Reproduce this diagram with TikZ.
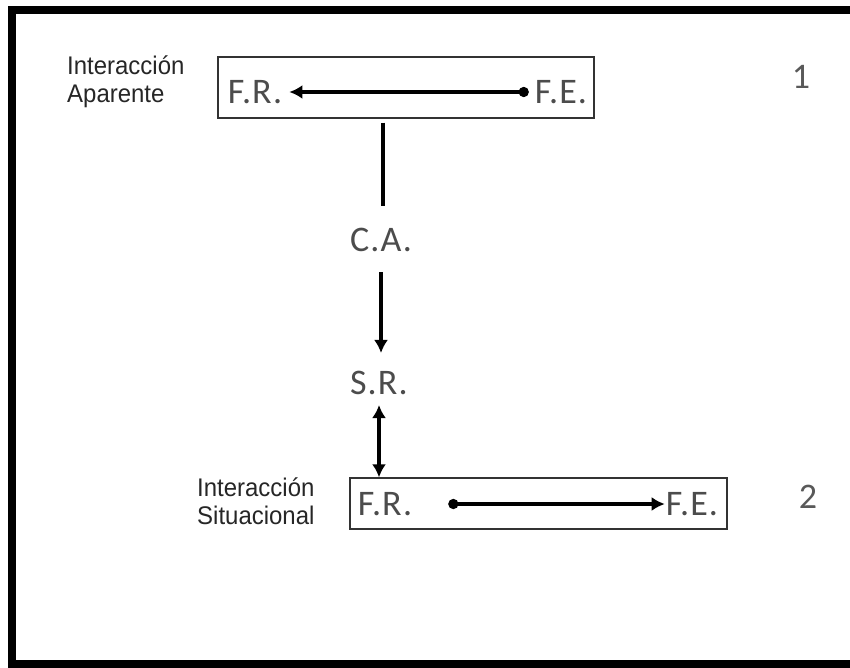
\documentclass[tikz,border=0pt]{standalone}
\usepackage{fontspec}
\setmainfont{Carlito}
\newfontfamily\arialf[FakeStretch=0.94]{Liberation Sans}
\usetikzlibrary{arrows.meta,calc}
\tikzset{
  ahead/.tip={Latex[length=13pt,width=14pt]},
  dot/.tip={Circle[length=10pt,width=10pt]}
}
\begin{document}
\begin{tikzpicture}[x=1pt,y=-1pt,
  lbl/.style={font=\fontsize{36}{40}\selectfont\addfontfeatures{LetterSpace=3}, text=black!70, inner sep=0pt},
  num/.style={font=\fontsize{36}{40}\selectfont, text=black!65, inner sep=0pt},
  side/.style={font=\arialf\fontsize{25.5}{28}\selectfont, text=black!85, align=left, inner sep=0pt, anchor=west},
  boxx/.style={draw=black!80, line width=1.3pt, inner sep=0pt},
  conn/.style={line width=4.2pt, black}
]
\useasboundingbox (0,0) rectangle (850,668);
\begin{scope}
\clip (0,0) rectangle (850,668);
\draw[line width=8pt] (11.5,10) -- (880,10) -- (880,664) -- (11.5,664) -- cycle;
\end{scope}

% boxes
\node[boxx, minimum width=376pt, minimum height=61pt] (box1) at (406,87.5) {};
\node[boxx, minimum width=377pt, minimum height=51pt] (box2) at (538.5,503.5) {};

% texts
\node[lbl] (fr1) at (255,92) {F.R.};
\node[lbl] (fe1) at (561,92) {F.E.};
\node[lbl] (fr2) at (385,504) {F.R.};
\node[lbl] (fe2) at (692,504) {F.E.};
\node[lbl] (ca) at (381,240) {C.A.};
\node[lbl] (sr) at (379,383) {S.R.};
\node[side] (s1) at (67,82) {Interacción\\Aparente};
\node[side] (s2) at (197,501) {Interacción\\Situacional};
\node[num] (n1) at (801,77) {1};
\node[num] (n2) at (808,497) {2};

% connectors
\draw[conn, {ahead}-{dot}, shorten <=7pt, shorten >=6pt] (fr1.east) -- (fe1.west);
\draw[conn, {dot}-{ahead}, shorten <=36pt, shorten >=1pt] (fr2.east) -- (fe2.west);
\draw[conn, shorten <=4pt, shorten >=22pt] ([xshift=2pt]ca.north |- box1.south) -- ([xshift=2pt]ca.north);
\draw[conn, -{ahead}, shorten <=20pt, shorten >=18pt] (ca.south) -- (ca.south |- sr.north);
\draw[conn, {ahead}-{ahead}, shorten <=10pt] (sr.south) -- (sr.south |- box2.north);
\end{tikzpicture}
\end{document}
